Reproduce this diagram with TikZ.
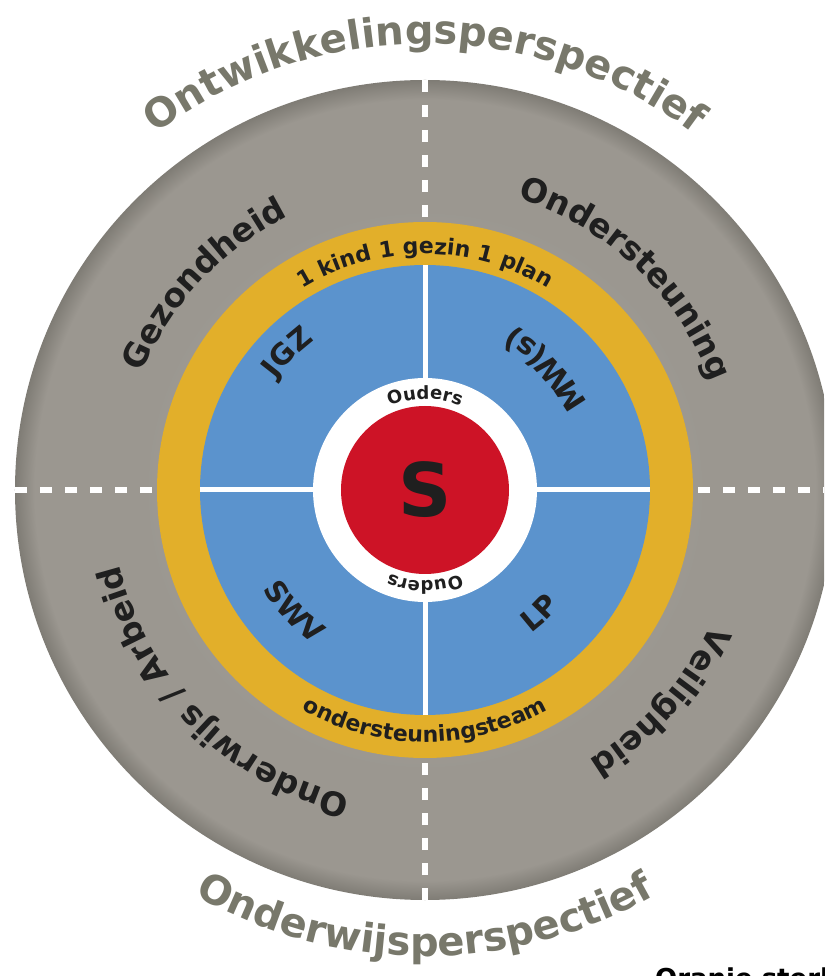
\documentclass[tikz,border=0pt]{standalone}
\usepackage{fontspec}
\setmainfont{DejaVu Sans}[BoldFont=DejaVu Sans Bold]
\usetikzlibrary{decorations.text}
\definecolor{grayA}{HTML}{A29F98}
\definecolor{grayB}{HTML}{9B9790}
\definecolor{grayC}{HTML}{7F7C75}
\definecolor{ringorange}{HTML}{E2AF2A}
\definecolor{blueq}{HTML}{5B93CD}
\definecolor{redc}{HTML}{CD1326}
\definecolor{ink}{HTML}{1F1F1F}
\definecolor{outertext}{HTML}{78786B}
\pgfdeclareradialshading{diskshade}{\pgfpoint{0bp}{0bp}}{color(0bp)=(grayA); color(18bp)=(grayB); color(23.8bp)=(grayB); color(25bp)=(grayC); color(50bp)=(grayC)}
\newcommand{\txtcw}[5]{\path[decorate,decoration={text along path,text align=center,text color=#4,text={|\fontsize{#3}{#3}\selectfont\bfseries|#5}}] ({#1+85}:#2pt) arc[start angle={#1+85},end angle={#1-85},radius=#2pt];}
\newcommand{\txtccw}[5]{\path[decorate,decoration={text along path,text align=center,text color=#4,text={|\fontsize{#3}{#3}\selectfont\bfseries|#5}}] ({#1-85}:#2pt) arc[start angle={#1-85},end angle={#1+85},radius=#2pt];}
\tikzset{
  roaddash/.style={white,line width=6pt,dash pattern=on 12pt off 13pt},
  divider/.style={white,line width=5pt}
}
\begin{document}
\begin{tikzpicture}
\useasboundingbox (-425pt,-486pt) rectangle (399pt,490pt);
\clip (-425pt,-486pt) rectangle (399pt,490pt);
\fill[white] (-425pt,-486pt) rectangle (399pt,490pt);
% gray disk
\shade[shading=diskshade] (0,0) circle[radius=410pt];
\foreach \a in {0,90,180,270} \draw[roaddash] (\a:410pt) -- (\a:268pt);
% orange ring, blue disc
\fill[ringorange] (0,0) circle[radius=268pt];
\fill[blueq] (0,0) circle[radius=225pt];
\draw[divider] (-225pt,0) -- (225pt,0) (0,-225pt) -- (0,225pt);
% centre
\fill[white] (0,0) circle[radius=112pt];
\fill[redc] (0,0) circle[radius=84pt];
\node[font=\bfseries\fontsize{74}{74}\selectfont,text=ink] (s) at (0,0) {S};
% outer captions
\txtcw{90}{446}{40}{outertext}{Ontwikkelingsperspectief}
\txtccw{270}{466}{40}{outertext}{Onderwijsperspectief}
% gray quadrant labels
\txtcw{137}{306}{33}{ink}{Gezondheid}
\txtcw{46.5}{306}{33}{ink}{Ondersteuning}
\txtcw{-42}{316}{33}{ink}{Veiligheid}
\txtcw{225}{315}{33}{ink}{Onderwijs / Arbeid}
% orange ring
\txtcw{90}{236}{22}{ink}{1 kind 1 gezin 1 plan}
\txtccw{270}{252}{22}{ink}{ondersteuningsteam}
% white ring
\txtcw{90}{91}{18}{ink}{Ouders}
\txtcw{270}{91}{18}{ink}{Ouders}
% blue quadrant labels
\txtcw{135}{186}{29}{ink}{JGZ}
\txtccw{45}{184}{30}{ink}{MW(s)}
\txtccw{-47}{178}{29}{ink}{LP}
\txtccw{223}{190}{29}{ink}{SWV}
% cut-off credit
\node[anchor=north west,inner sep=0pt,font=\bfseries\fontsize{26}{26}\selectfont,text=black] (credit) at (230pt,-478pt) {Oranje sterk};
\end{tikzpicture}
\end{document}
